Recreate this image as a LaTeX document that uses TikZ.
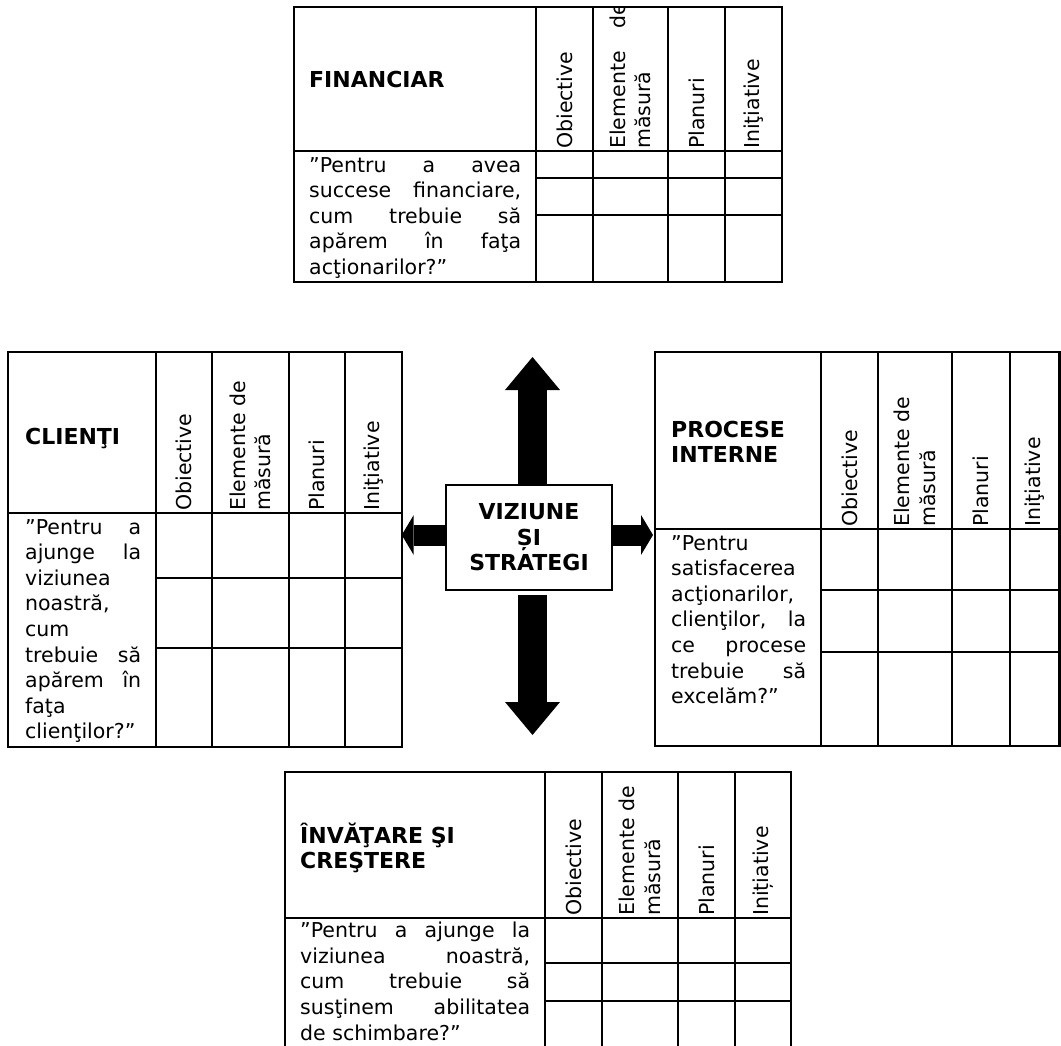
\documentclass[tikz,border=0pt]{standalone}
\usepackage{fontspec}
\setmainfont{DejaVu Sans}
\usetikzlibrary{arrows.meta}
\setlength{\parindent}{0pt}
\hyphenpenalty=10000
\tolerance=10000
\hbadness=10000

\begin{document}
\begin{tikzpicture}[x=1pt,y=-1pt,
   tab/.style={line width=2.3pt},
   quest/.style={anchor=north west,inner sep=0pt,align=justify,font=\fontsize{20.5}{25.6}\selectfont},
   title/.style={inner sep=0pt,align=left,font=\fontsize{22}{24.5}\selectfont\bfseries},
   colhead/.style={rotate=90,anchor=west,inner sep=0pt,align=left,font=\fontsize{20.5}{25.6}\selectfont},
   bigarrow/.style={line width=29pt,-{Triangle[width=55pt,length=33pt,line width=0pt]}},
   sidearrow/.style={line width=21pt,-{Triangle[width=40pt,length=12pt,line width=0pt]}}]
  \useasboundingbox (0,0) rectangle (1061,1046);

   \draw[tab] (294,7) rectangle (782,282);
   \foreach \x in {536,593,668,725} \draw[tab] (\x,7) -- (\x,282);
   \draw[tab] (294,151) -- (782,151);
   \foreach \y in {178,215} \draw[tab] (536,\y) -- (782,\y);
    \node[title,anchor=base west] (fin) at (309,88) {FINANCIAR};
    \node[quest,text width=212pt] (finq) at (309,157) {”Pentru~a~avea\linebreak succese~financiare,\linebreak cum~trebuie~să\linebreak apărem~în~faţa\linebreak acţionarilor?”};
  \begin{scope}
   \clip (294,7) rectangle (782,282);
    \node[colhead] (finobj) at (564.5,149) {Obiective};
    \node[colhead,text width=146pt,align=justify] (finmas) at (630.5,149) {Elemente de\linebreak măsură};
    \node[colhead] (finpl) at (696.5,149) {Planuri};
    \node[colhead] (finini) at (753.5,149) {Iniţiative};
  \end{scope}

   \draw[tab] (8,352) rectangle (402,747);
   \foreach \x in {156,212,289,345} \draw[tab] (\x,352) -- (\x,747);
   \draw[tab] (8,513) -- (402,513);
   \foreach \y in {578,648} \draw[tab] (156,\y) -- (402,\y);
    \node[title,anchor=base west] (cli) at (25,444) {CLIENŢI};
    \node[quest,text width=116pt] (cliq) at (25,519) {”Pentru~a\linebreak ajunge~la\linebreak viziunea\linebreak noastră,\linebreak cum\linebreak trebuie~să\linebreak apărem~în\linebreak faţa\linebreak clienţilor?”};
    \node[colhead] (cliobj) at (184,511) {Obiective};
    \node[colhead] (climas) at (250.5,511) {Elemente de\\măsură};
    \node[colhead] (clipl) at (317,511) {Planuri};
    \node[colhead] (cliini) at (373.5,511) {Iniţiative};

   \draw[tab] (655,352) rectangle (1059.5,746);
   \foreach \x in {821,878,952,1010} \draw[tab] (\x,352) -- (\x,746);
   \draw[tab] (655,529) -- (1059.5,529);
   \foreach \y in {590,652} \draw[tab] (821,\y) -- (1059.5,\y);
    \node[title,anchor=west] (proc) at (671,442) {PROCESE\\INTERNE};
    \node[quest,text width=135pt] (procq) at (671,535) {”Pentru\linebreak satisfacerea\linebreak acţionarilor,\linebreak clienţilor,~la\linebreak ce~procese\linebreak trebuie~să\linebreak excelăm?”};
    \node[colhead] (procobj) at (849.5,527) {Obiective};
    \node[colhead] (procmas) at (915,527) {Elemente de\\măsură};
    \node[colhead] (procpl) at (981,527) {Planuri};
    \node[colhead] (procini) at (1034.75,527) {Iniţiative};

   \draw[tab] (285,772) rectangle (791,1052);
   \foreach \x in {545,602,678,735} \draw[tab] (\x,772) -- (\x,1052);
   \draw[tab] (285,918) -- (791,918);
   \foreach \y in {963,1001} \draw[tab] (545,\y) -- (791,\y);
    \node[title,anchor=west] (inv) at (300,848) {ÎNVĂŢARE ŞI\\CREŞTERE};
    \node[quest,text width=230pt] (invq) at (300,922) {”Pentru~a~ajunge~la\linebreak viziunea~noastră,\linebreak cum~trebuie~să\linebreak susţinem~abilitatea\linebreak de~schimbare?”};
    \node[colhead] (invobj) at (573.5,916) {Obiective};
    \node[colhead] (invmas) at (640,916) {Elemente de\\măsură};
    \node[colhead] (invpl) at (706.5,916) {Planuri};
    \node[colhead] (invini) at (763,916) {Inițiative};

   \node[draw,line width=1.3pt,minimum width=166pt,minimum height=105pt,inner sep=0pt,align=center,
      font=\fontsize{22}{25.6}\selectfont\bfseries] (vision) at (529,537.5) {VIZIUNE\\ȘI\\STRATEGI};
   \coordinate (uptip) at (532.5,357);
   \coordinate (downtip) at (532.5,735);
   \coordinate (lefttip) at (401.7,535);
   \coordinate (righttip) at (653,535);
    \draw[bigarrow] (vision.north -| uptip) -- (uptip);
    \draw[bigarrow,shorten <=4pt] (vision.south -| downtip) -- (downtip);
    \draw[sidearrow] (vision.west |- lefttip) -- (lefttip);
    \draw[sidearrow] (vision.east |- righttip) -- (righttip);
\end{tikzpicture}
\end{document}
